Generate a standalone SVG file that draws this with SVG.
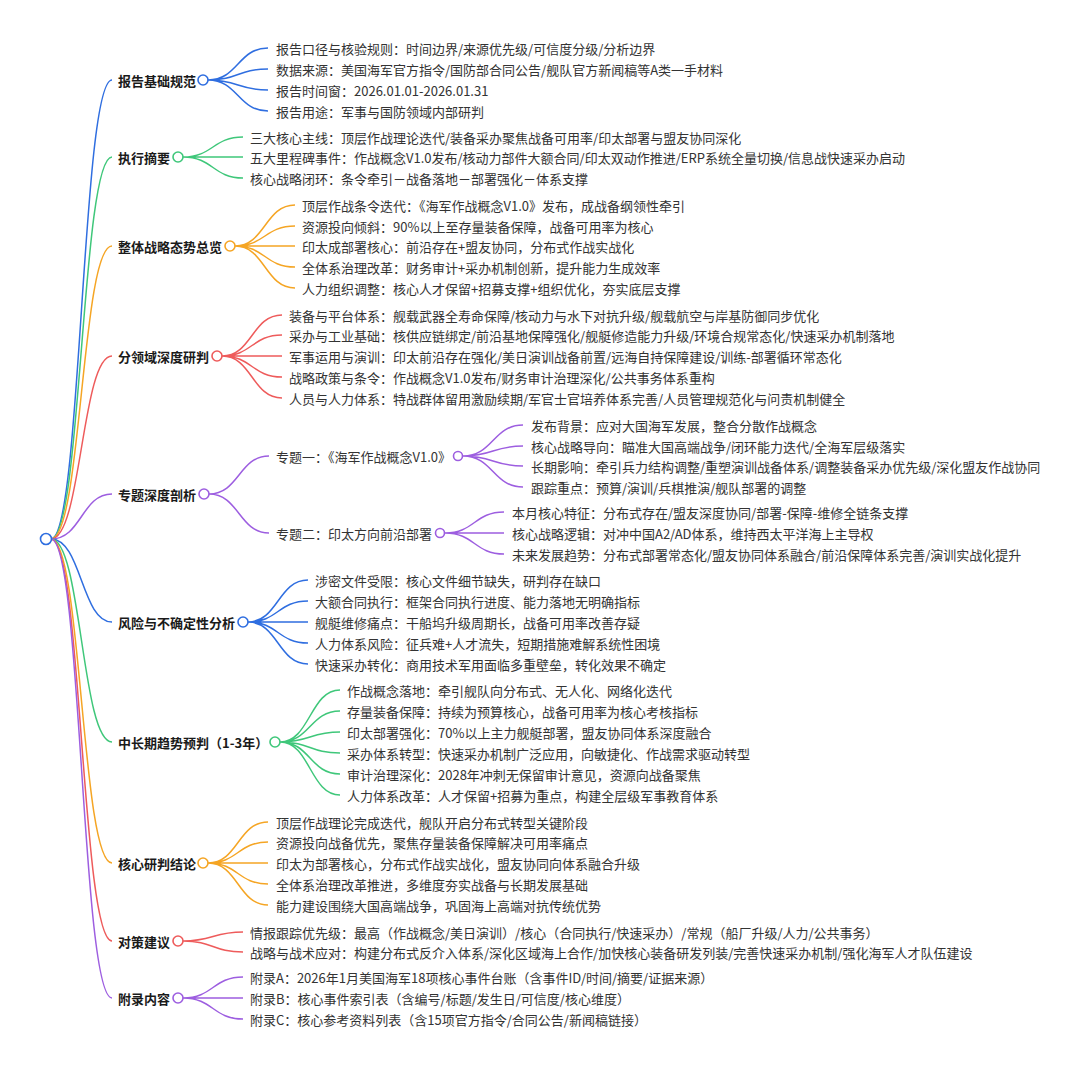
<svg xmlns="http://www.w3.org/2000/svg" width="1080" height="1067" viewBox="0 0 1080 1067">
<style>
text{font-family:"Noto Sans CJK SC","Noto Sans",sans-serif;dominant-baseline:central;}
.b{font-size:13px;font-weight:bold;fill:#1a1a1a;}
.l{font-size:13px;fill:#333;}
path{fill:none;stroke-width:1.5;}
circle{fill:#fff;stroke-width:1.6;}
.cb{stroke:#2f6ee0;}.cg{stroke:#3fc77a;}.co{stroke:#f5a524;}.cr{stroke:#ee5b5b;}.cp{stroke:#9d5ee0;}
</style>
<rect width="1080" height="1067" fill="#fff"/>
<g id="connectors">
<path class="cb" d="M51 539C81.5 539 81.5 80 112 80"/>
<path class="cg" d="M51 539C81.5 539 81.5 157 112 157"/>
<path class="co" d="M51 539C81.5 539 81.5 246 112 246"/>
<path class="cr" d="M51 539C81.5 539 81.5 356 112 356"/>
<path class="cp" d="M51 539C81.5 539 81.5 494 112 494"/>
<path class="cb" d="M51 539C81.5 539 81.5 622 112 622"/>
<path class="cg" d="M51 539C81.5 539 81.5 742 112 742"/>
<path class="co" d="M51 539C81.5 539 81.5 863 112 863"/>
<path class="cr" d="M51 539C81.5 539 81.5 941 112 941"/>
<path class="cp" d="M51 539C81.5 539 81.5 998 112 998"/>
<path class="cb" d="M208 80C238 80 238 48 268 48M208 80C238 80 238 69 268 69M208 80C238 80 238 90 268 90M208 80C238 80 238 111 268 111"/>
<path class="cg" d="M183 157C213 157 213 137 243 137M183 157C213 157 213 157 243 157M183 157C213 157 213 178 243 178"/>
<path class="co" d="M235 246C265 246 265 205 295 205M235 246C265 246 265 226 295 226M235 246C265 246 265 246 295 246M235 246C265 246 265 267 295 267M235 246C265 246 265 288 295 288"/>
<path class="cr" d="M222 356C252 356 252 315 282 315M222 356C252 356 252 335 282 335M222 356C252 356 252 356 282 356M222 356C252 356 252 377 282 377M222 356C252 356 252 398 282 398"/>
<path class="cp" d="M209 494C239 494 239 456 269 456M209 494C239 494 239 533 269 533"/>
<path class="cp" d="M463 456C493 456 493 425 523 425M463 456C493 456 493 446 523 446M463 456C493 456 493 466 523 466M463 456C493 456 493 487 523 487"/>
<path class="cp" d="M445 533C474.5 533 474.5 512 504 512M445 533C474.5 533 474.5 533 504 533M445 533C474.5 533 474.5 554 504 554"/>
<path class="cb" d="M248 622C278 622 278 580 308 580M248 622C278 622 278 601 308 601M248 622C278 622 278 622 308 622M248 622C278 622 278 643 308 643M248 622C278 622 278 664 308 664"/>
<path class="cg" d="M280 742C310 742 310 690 340 690M280 742C310 742 310 711 340 711M280 742C310 742 310 732 340 732M280 742C310 742 310 753 340 753M280 742C310 742 310 774 340 774M280 742C310 742 310 795 340 795"/>
<path class="co" d="M208 863C238 863 238 822 268 822M208 863C238 863 238 842 268 842M208 863C238 863 238 863 268 863M208 863C238 863 238 884 268 884M208 863C238 863 238 905 268 905"/>
<path class="cr" d="M183 941C213 941 213 932 243 932M183 941C213 941 213 952 243 952"/>
<path class="cp" d="M183 998C213 998 213 977 243 977M183 998C213 998 213 998 243 998M183 998C213 998 213 1019 243 1019"/>
</g>
<g id="root"><circle class="cb" cx="46" cy="539" r="5.5"/></g>
<g id="n1"><text class="b" x="118" y="80">报告基础规范</text><circle class="cb" cx="203" cy="80" r="5"/>
<text class="l" x="276" y="48">报告口径与核验规则：时间边界/来源优先级/可信度分级/分析边界</text>
<text class="l" x="276" y="69">数据来源：美国海军官方指令/国防部合同公告/舰队官方新闻稿等A类一手材料</text>
<text class="l" x="276" y="90">报告时间窗：2026.01.01-2026.01.31</text>
<text class="l" x="276" y="111">报告用途：军事与国防领域内部研判</text></g>
<g id="n2"><text class="b" x="118" y="157">执行摘要</text><circle class="cg" cx="178" cy="157" r="5"/>
<text class="l" x="250" y="137">三大核心主线：顶层作战理论迭代/装备采办聚焦战备可用率/印太部署与盟友协同深化</text>
<text class="l" x="250" y="157">五大里程碑事件：作战概念V1.0发布/核动力部件大额合同/印太双动作推进/ERP系统全量切换/信息战快速采办启动</text>
<text class="l" x="250" y="178">核心战略闭环：条令牵引－战备落地－部署强化－体系支撑</text></g>
<g id="n3"><text class="b" x="118" y="246">整体战略态势总览</text><circle class="co" cx="230" cy="246" r="5"/>
<text class="l" x="302" y="205">顶层作战条令迭代：《海军作战概念V1.0》发布，成战备纲领性牵引</text>
<text class="l" x="302" y="226">资源投向倾斜：90%以上至存量装备保障，战备可用率为核心</text>
<text class="l" x="302" y="246">印太成部署核心：前沿存在+盟友协同，分布式作战实战化</text>
<text class="l" x="302" y="267">全体系治理改革：财务审计+采办机制创新，提升能力生成效率</text>
<text class="l" x="302" y="288">人力组织调整：核心人才保留+招募支撑+组织优化，夯实底层支撑</text></g>
<g id="n4"><text class="b" x="118" y="356">分领域深度研判</text><circle class="cr" cx="217" cy="356" r="5"/>
<text class="l" x="289" y="315">装备与平台体系：舰载武器全寿命保障/核动力与水下对抗升级/舰载航空与岸基防御同步优化</text>
<text class="l" x="289" y="335">采办与工业基础：核供应链绑定/前沿基地保障强化/舰艇修造能力升级/环境合规常态化/快速采办机制落地</text>
<text class="l" x="289" y="356">军事运用与演训：印太前沿存在强化/美日演训战备前置/远海自持保障建设/训练-部署循环常态化</text>
<text class="l" x="289" y="377">战略政策与条令：作战概念V1.0发布/财务审计治理深化/公共事务体系重构</text>
<text class="l" x="289" y="398">人员与人力体系：特战群体留用激励续期/军官士官培养体系完善/人员管理规范化与问责机制健全</text></g>
<g id="n5"><text class="b" x="118" y="494">专题深度剖析</text><circle class="cp" cx="204" cy="494" r="5"/></g>
<g id="n5a"><text class="l" x="276" y="456">专题一：《海军作战概念V1.0》</text><circle class="cp" cx="458" cy="456" r="4.5"/>
<text class="l" x="531" y="425">发布背景：应对大国海军发展，整合分散作战概念</text>
<text class="l" x="531" y="446">核心战略导向：瞄准大国高端战争/闭环能力迭代/全海军层级落实</text>
<text class="l" x="531" y="466">长期影响：牵引兵力结构调整/重塑演训战备体系/调整装备采办优先级/深化盟友作战协同</text>
<text class="l" x="531" y="487">跟踪重点：预算/演训/兵棋推演/舰队部署的调整</text></g>
<g id="n5b"><text class="l" x="276" y="533">专题二：印太方向前沿部署</text><circle class="cp" cx="440" cy="533" r="4.5"/>
<text class="l" x="512" y="512">本月核心特征：分布式存在/盟友深度协同/部署-保障-维修全链条支撑</text>
<text class="l" x="512" y="533">核心战略逻辑：对冲中国A2/AD体系，维持西太平洋海上主导权</text>
<text class="l" x="512" y="554">未来发展趋势：分布式部署常态化/盟友协同体系融合/前沿保障体系完善/演训实战化提升</text></g>
<g id="n6"><text class="b" x="118" y="622">风险与不确定性分析</text><circle class="cb" cx="243" cy="622" r="5"/>
<text class="l" x="315" y="580">涉密文件受限：核心文件细节缺失，研判存在缺口</text>
<text class="l" x="315" y="601">大额合同执行：框架合同执行进度、能力落地无明确指标</text>
<text class="l" x="315" y="622">舰艇维修痛点：干船坞升级周期长，战备可用率改善存疑</text>
<text class="l" x="315" y="643">人力体系风险：征兵难+人才流失，短期措施难解系统性困境</text>
<text class="l" x="315" y="664">快速采办转化：商用技术军用面临多重壁垒，转化效果不确定</text></g>
<g id="n7"><text class="b" x="118" y="742">中长期趋势预判（1-3年）</text><circle class="cg" cx="275" cy="742" r="5"/>
<text class="l" x="347" y="690">作战概念落地：牵引舰队向分布式、无人化、网络化迭代</text>
<text class="l" x="347" y="711">存量装备保障：持续为预算核心，战备可用率为核心考核指标</text>
<text class="l" x="347" y="732">印太部署强化：70%以上主力舰艇部署，盟友协同体系深度融合</text>
<text class="l" x="347" y="753">采办体系转型：快速采办机制广泛应用，向敏捷化、作战需求驱动转型</text>
<text class="l" x="347" y="774">审计治理深化：2028年冲刺无保留审计意见，资源向战备聚焦</text>
<text class="l" x="347" y="795">人力体系改革：人才保留+招募为重点，构建全层级军事教育体系</text></g>
<g id="n8"><text class="b" x="118" y="863">核心研判结论</text><circle class="co" cx="203" cy="863" r="5"/>
<text class="l" x="276" y="822">顶层作战理论完成迭代，舰队开启分布式转型关键阶段</text>
<text class="l" x="276" y="842">资源投向战备优先，聚焦存量装备保障解决可用率痛点</text>
<text class="l" x="276" y="863">印太为部署核心，分布式作战实战化，盟友协同向体系融合升级</text>
<text class="l" x="276" y="884">全体系治理改革推进，多维度夯实战备与长期发展基础</text>
<text class="l" x="276" y="905">能力建设围绕大国高端战争，巩固海上高端对抗传统优势</text></g>
<g id="n9"><text class="b" x="118" y="941">对策建议</text><circle class="cr" cx="178" cy="941" r="5"/>
<text class="l" x="250" y="932">情报跟踪优先级：最高（作战概念/美日演训）/核心（合同执行/快速采办）/常规（船厂升级/人力/公共事务）</text>
<text class="l" x="250" y="952">战略与战术应对：构建分布式反介入体系/深化区域海上合作/加快核心装备研发列装/完善快速采办机制/强化海军人才队伍建设</text></g>
<g id="n10"><text class="b" x="118" y="998">附录内容</text><circle class="cp" cx="178" cy="998" r="5"/>
<text class="l" x="250" y="977">附录A：2026年1月美国海军18项核心事件台账（含事件ID/时间/摘要/证据来源）</text>
<text class="l" x="250" y="998">附录B：核心事件索引表（含编号/标题/发生日/可信度/核心维度）</text>
<text class="l" x="250" y="1019">附录C：核心参考资料列表（含15项官方指令/合同公告/新闻稿链接）</text></g>
</svg>
